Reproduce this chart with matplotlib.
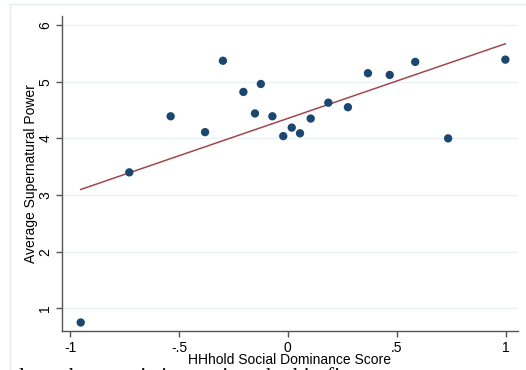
import matplotlib
matplotlib.use("Agg")
import matplotlib.pyplot as plt
import numpy as np
from matplotlib.patches import Rectangle

# Household social dominance score (x) vs average supernatural power (y)
dominance = [-0.951, -0.728, -0.538, -0.380, -0.298, -0.204, -0.124, -0.151,
             -0.071, -0.021, 0.018, 0.056, 0.105, 0.186, 0.276, 0.368,
             0.468, 0.585, 0.736, 0.999]
power = [0.75, 3.40, 4.39, 4.11, 5.37, 4.82, 4.96, 4.44,
         4.39, 4.04, 4.19, 4.09, 4.35, 4.63, 4.55, 5.15,
         5.12, 5.35, 4.00, 5.39]

x_ticks = [-1, -0.5, 0, 0.5, 1]
x_tick_labels = ["-1", "-.5", "0", ".5", "1"]
y_ticks = [1, 2, 3, 4, 5, 6]

plt.rcParams["font.family"] = ["Liberation Sans", "DejaVu Sans"]

navy = "#1a476f"
maroon = "#a0484e"
grid_col = "#eaf2f3"
axis_col = "#555555"

fig = plt.figure(figsize=(5.26, 3.70), dpi=100)
fig.patch.set_facecolor("white")

# light outer frame of the graph region
fig.patches.append(Rectangle((10 / 526, -0.1), 1.2, 1.1 - 3.5 / 370,
                             transform=fig.transFigure, fill=False,
                             edgecolor="#e3ebee", lw=1.0))

ax = fig.add_axes([62 / 526, 1 - 331 / 370, (518 - 62) / 526, (331 - 16) / 370])

x = np.array(dominance)
y = np.array(power)

# linear fit over the range of the data
slope, intercept = np.polyfit(x, y, 1)
xs = np.array([x.min(), x.max()])
ax.plot(xs, intercept + slope * xs, color=maroon, lw=1.1, zorder=2)

ax.scatter(x, y, s=36, color=navy, edgecolors="none", zorder=3)

ax.set_xlim(-1.037, 1.057)
ax.set_ylim(0.6, 6.16)

ax.set_xticks(x_ticks)
ax.set_xticklabels(x_tick_labels)
ax.set_yticks(y_ticks)
ax.set_yticklabels([str(v) for v in y_ticks], rotation=90, va="center")

ax.grid(axis="y", color=grid_col, lw=1.0)
ax.set_axisbelow(True)

for side in ["top", "right"]:
    ax.spines[side].set_visible(False)
for side in ["left", "bottom"]:
    ax.spines[side].set_color(axis_col)
    ax.spines[side].set_linewidth(1.0)

ax.tick_params(axis="both", colors=axis_col, length=4, width=1.0,
               labelsize=10, labelcolor="black", pad=3)

ax.set_xlabel("HHhold Social Dominance Score", fontsize=10, labelpad=-1)
ax.set_ylabel("Average Supernatural Power", fontsize=10, labelpad=0)

# page text below the screenshot, only its top edge shows
fig.text(0.036, 1 - 382 / 370, "l      characteristics against the kin fi",
         fontsize=16, family=["Liberation Serif", "DejaVu Serif"],
         va="baseline", ha="left", color="black")

fig.savefig("out.png", dpi=100)
